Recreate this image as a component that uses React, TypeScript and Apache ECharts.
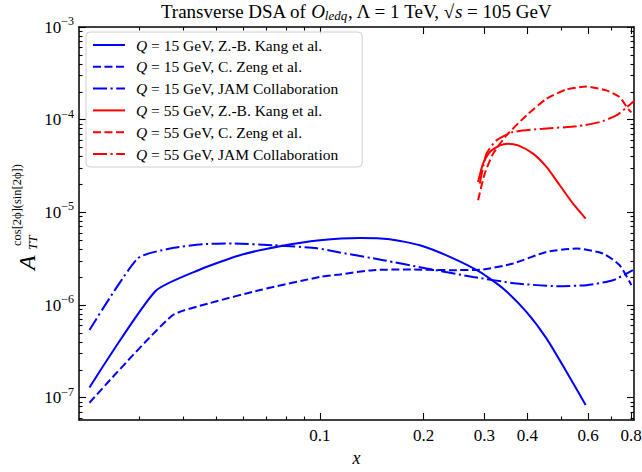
import React, { useEffect, useRef } from 'react';
import * as echarts from 'echarts';

const FONT = '"Liberation Serif", "DejaVu Serif", "Times New Roman", serif';

const X_MIN = 0.02;
const X_MAX = 0.815;
const Y_MIN = 5.75e-8;
const Y_MAX = 1e-3;

const xMajorTicks = [0.1, 0.2, 0.3, 0.4, 0.6, 0.8];
const xMinorTicks = [0.03, 0.04, 0.05, 0.06, 0.07, 0.08, 0.09, 0.5, 0.7];
const yMajorTicks = [1e-7, 1e-6, 1e-5, 1e-4, 1e-3];
const yMinorMantissas = [2, 3, 4, 5, 6, 7, 8, 9];
const yMinorDecades = [1e-8, 1e-7, 1e-6, 1e-5, 1e-4];

const seriesNames = [
  'Q = 15 GeV, Z.-B. Kang et al.',
  'Q = 15 GeV, C. Zeng et al.',
  'Q = 15 GeV, JAM Collaboration',
  'Q = 55 GeV, Z.-B. Kang et al.',
  'Q = 55 GeV, C. Zeng et al.',
  'Q = 55 GeV, JAM Collaboration',
];

const kang15 = [
  [0.02145, 1.29e-7], [0.0333, 1.41e-6], [0.0449, 2.42e-6], [0.0586, 3.45e-6],
  [0.0766, 4.31e-6], [0.1, 5.0e-6], [0.1306, 5.3e-6], [0.1595, 5.13e-6],
  [0.195, 4.42e-6], [0.2382, 3.31e-6], [0.2909, 2.28e-6], [0.3399, 1.51e-6],
  [0.3972, 8.45e-7], [0.4541, 4.37e-7], [0.519, 1.91e-7], [0.59, 8.34e-8],
];
const zeng15 = [
  [0.02145, 8.83e-8], [0.0372, 7.65e-7], [0.048, 1.05e-6], [0.067, 1.45e-6],
  [0.1, 2.01e-6], [0.1143, 2.14e-6], [0.1427, 2.38e-6], [0.1784, 2.42e-6],
  [0.2382, 2.38e-6], [0.2973, 2.42e-6], [0.3634, 2.81e-6], [0.4541, 3.74e-6],
  [0.5546, 4.07e-6], [0.6625, 3.6e-6], [0.7406, 2.69e-6], [0.801, 1.64e-6],
];
const jam15 = [
  [0.02145, 5.37e-7], [0.0296, 3.18e-6], [0.0367, 4.07e-6], [0.0458, 4.53e-6],
  [0.056, 4.61e-6], [0.0731, 4.42e-6], [0.098, 4.1e-6], [0.1143, 3.69e-6],
  [0.1526, 3.05e-6], [0.2039, 2.48e-6], [0.2782, 2.01e-6], [0.3716, 1.71e-6],
  [0.4855, 1.6e-6], [0.5935, 1.64e-6], [0.708, 1.85e-6], [0.809, 2.38e-6],
];
const kang55 = [
  [0.2876, 2.13e-5], [0.2973, 3.36e-5], [0.311, 4.48e-5], [0.3325, 5.28e-5],
  [0.3515, 5.51e-5], [0.3757, 5.28e-5], [0.4153, 4.3e-5], [0.4541, 3.09e-5],
  [0.4964, 1.96e-5], [0.5424, 1.24e-5], [0.59, 8.57e-6],
];
const zeng55 = [
  [0.2876, 1.35e-5], [0.3007, 2.62e-5], [0.318, 4.3e-5], [0.3477, 6.77e-5],
  [0.3972, 1.11e-4], [0.4541, 1.68e-4], [0.519, 2.12e-4], [0.5935, 2.28e-4],
  [0.6776, 2.07e-4], [0.7406, 1.75e-4], [0.783, 1.31e-4], [0.801, 1.2e-4],
];
const jam55 = [
  [0.2909, 2.04e-5], [0.3042, 4.3e-5], [0.3253, 5.98e-5], [0.3634, 7.35e-5],
  [0.4438, 8.0e-5], [0.5546, 8.47e-5], [0.6479, 9.42e-5], [0.7244, 1.11e-4],
  [0.7745, 1.35e-4], [0.8185, 1.61e-4],
];

const seriesData = [kang15, zeng15, jam15, kang55, zeng55, jam55];
const seriesColors = ['#0000ff', '#0000ff', '#0000ff', '#ff0000', '#ff0000', '#ff0000'];
const SOLID: any = 'solid';
const DASHED = [8, 3.5];
const DASHDOT = [14, 3.5, 2.2, 3.5];
const seriesDash = [SOLID, DASHED, DASHDOT, SOLID, DASHED, DASHDOT];

const yMinorTicks: number[] = [];
yMinorDecades.forEach((d) =>
  yMinorMantissas.forEach((m) => {
    const v = Number((m * d).toPrecision(3));
    if (v > Y_MIN && v < Y_MAX) yMinorTicks.push(v);
  })
);

const TICK_COLOR = '#000';

function xAxisDef(position: 'top' | 'bottom', major: boolean): any {
  const ticks = major ? xMajorTicks : xMinorTicks;
  const showLabel = major && position === 'bottom';
  const def: any = {
    type: 'log',
    logBase: 10,
    min: X_MIN,
    max: X_MAX,
    position,
    gridIndex: 0,
    axisLine: { show: major, onZero: false, lineStyle: { color: '#000', width: 1.5 } },
    axisTick: {
      show: true,
      inside: true,
      length: major ? 7 : 3.5,
      customValues: ticks,
      lineStyle: { color: TICK_COLOR, width: 1.1 },
    },
    axisLabel: {
      show: showLabel,
      customValues: ticks,
      formatter: (v: number) => v.toFixed(1),
      color: '#000',
      fontFamily: FONT,
      fontSize: 17,
      margin: 7,
    },
    minorTick: { show: false },
    splitLine: { show: false },
    minorSplitLine: { show: false },
  };
  if (showLabel) {
    def.name = 'x';
    def.nameLocation = 'middle';
    def.nameGap = 28;
    def.nameTextStyle = { fontFamily: FONT, fontStyle: 'italic', fontSize: 18, color: '#000' };
  }
  return def;
}

function yAxisDef(position: 'left' | 'right', major: boolean): any {
  const ticks = major ? yMajorTicks : yMinorTicks;
  const showLabel = major && position === 'left';
  return {
    type: 'log',
    logBase: 10,
    min: Y_MIN,
    max: Y_MAX,
    position,
    gridIndex: 0,
    axisLine: { show: major, onZero: false, lineStyle: { color: '#000', width: 1.5 } },
    axisTick: {
      show: true,
      inside: true,
      length: major ? 7 : 3.5,
      customValues: ticks,
      lineStyle: { color: TICK_COLOR, width: 1.1 },
    },
    axisLabel: {
      show: showLabel,
      customValues: ticks,
      formatter: (v: number) => `{b|10}{s|\u2212${-Math.round(Math.log10(v))}}`,
      margin: 5,
      rich: {
        b: { fontFamily: FONT, fontSize: 17, color: '#000' },
        s: { fontFamily: FONT, fontSize: 12, color: '#000', padding: [0, 0, 12, 0] },
      },
    },
    minorTick: { show: false },
    splitLine: { show: false },
    minorSplitLine: { show: false },
  };
}

const option: any = {
  animation: false,
  backgroundColor: '#fff',
  grid: { left: 79, right: 8, top: 27, bottom: 52, containLabel: false, outerBoundsMode: 'none' },
  xAxis: [
    xAxisDef('bottom', true),
    xAxisDef('bottom', false),
    xAxisDef('top', true),
    xAxisDef('top', false),
  ],
  yAxis: [
    yAxisDef('left', true),
    yAxisDef('left', false),
    yAxisDef('right', true),
    yAxisDef('right', false),
  ],
  legend: {
    orient: 'vertical',
    left: 86,
    top: 32,
    itemWidth: 32,
    itemHeight: 12,
    itemGap: 5.8,
    padding: [5, 24, 5, 6],
    backgroundColor: 'rgba(255,255,255,0.85)',
    borderColor: '#d0d0d0',
    borderWidth: 1,
    borderRadius: 4,
    data: seriesNames,
    itemStyle: { opacity: 0 },
    formatter: (name: string) => name.replace(/^Q/, '{q|Q}'),
    textStyle: {
      fontFamily: FONT,
      fontSize: 15.5,
      color: '#000',
      rich: {
        q: { fontFamily: FONT, fontSize: 15.5, fontStyle: 'italic', color: '#000', padding: [0, 0, 0, 6] },
      },
    },
  },
  series: seriesNames.map((name, i) => ({
    name,
    type: 'line',
    xAxisIndex: 0,
    yAxisIndex: 0,
    data: seriesData[i],
    symbol: 'none',
    showSymbol: false,
    smooth: 0.2,
    clip: true,
    itemStyle: { color: seriesColors[i] },
    lineStyle: { color: seriesColors[i], width: 2, type: seriesDash[i] },
    emphasis: { disabled: true },
  })),
  graphic: [
    {
      type: 'text',
      x: 356,
      y: 11,
      style: {
        text: '{r|Transverse DSA of }{i|O}{sub|ledq}{r|, \u039B = 1 TeV, \u221A}{i|s}{r| = 105 GeV}',
        align: 'center',
        verticalAlign: 'middle',
        fill: '#000',
        rich: {
          r: { fontFamily: FONT, fontSize: 19, fill: '#000' },
          i: { fontFamily: FONT, fontSize: 19, fontStyle: 'italic', fill: '#000' },
          sub: { fontFamily: FONT, fontSize: 13, fontStyle: 'italic', fill: '#000', padding: [9, 0, 0, 0] },
        },
      },
    },
    {
      type: 'group',
      x: 27,
      y: 272,
      rotation: Math.PI / 2,
      children: [
        {
          type: 'text',
          x: 2,
          y: 0,
          style: { text: 'A', fontFamily: FONT, fontSize: 24, fontStyle: 'italic', fill: '#000', align: 'left', verticalAlign: 'middle' },
        },
        {
          type: 'text',
          x: 22,
          y: 5,
          style: { text: 'TT', fontFamily: FONT, fontSize: 13, fontStyle: 'italic', fill: '#000', align: 'left', verticalAlign: 'middle' },
        },
        {
          type: 'text',
          x: 26,
          y: -10,
          style: { text: 'cos[2\u03D5](sin[2\u03D5])', fontFamily: FONT, fontSize: 12.5, fill: '#000', align: 'left', verticalAlign: 'middle' },
        },
      ],
    },
  ],
};

export default function App() {
  const ref = useRef<HTMLDivElement>(null);
  useEffect(() => {
    const chart = echarts.init(ref.current as HTMLDivElement, null, { renderer: 'svg' });
    chart.setOption(option);
    return () => chart.dispose();
  }, []);
  return (
    <div
      ref={ref}
      style={{ position: 'absolute', left: 0, top: 0, width: 642, height: 472, background: '#fff' }}
    />
  );
}
